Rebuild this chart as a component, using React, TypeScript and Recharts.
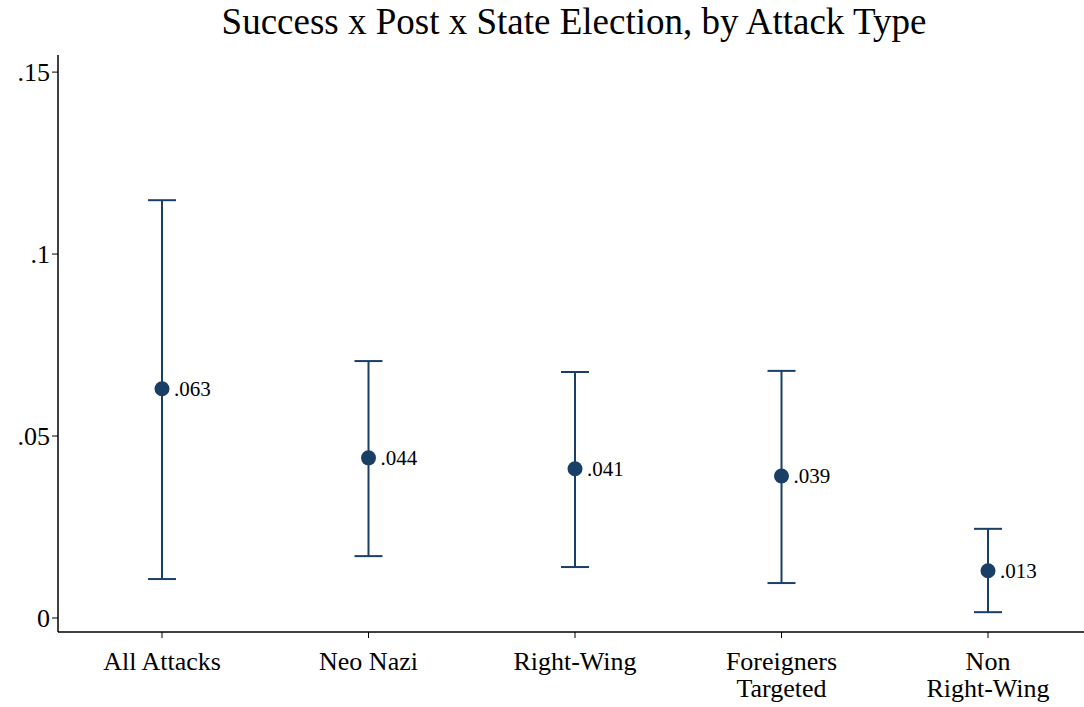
import React from "react";
import { ComposedChart, Scatter, XAxis, YAxis, ErrorBar, LabelList } from "recharts";

const categories = ["All Attacks", "Neo Nazi", "Right-Wing", "Foreigners\nTargeted", "Non\nRight-Wing"];
const estimates = [0.063, 0.044, 0.041, 0.039, 0.013];
const ciLow = [0.0107, 0.017, 0.014, 0.0096, 0.0016];
const ciHigh = [0.1148, 0.0706, 0.0676, 0.0679, 0.0245];
const yTicks = [0, 0.05, 0.1, 0.15];

const data = categories.map((c, i) => ({
  cat: c,
  est: estimates[i],
  err: [estimates[i] - ciLow[i], ciHigh[i] - estimates[i]],
}));

const fmt = (v: number) => (v === 0 ? "0" : String(v).replace(/^0/, ""));
const FONT = "'Liberation Serif', 'Times New Roman', serif";
const COLOR = "#1a3f66";

const XTick = (p: any) => {
  const lines = String(p.payload.value).split("\n");
  return (
    <text x={p.x} y={p.y + 10} textAnchor="middle" fontFamily={FONT} fontSize={26} fill="#000">
      {lines.map((l, i) => (
        <tspan key={i} x={p.x} dy={i === 0 ? 20 : 27}>{l}</tspan>
      ))}
    </text>
  );
};

const PointLabel = (p: any) => (
  <text x={p.x + p.width / 2 + 12} y={p.y + p.height / 2 + 7} fontFamily={FONT} fontSize={21} fill="#000">
    {fmt(p.value)}
  </text>
);

export default function App() {
  return (
    <div style={{ position: "absolute", left: 0, top: 0, width: 1084, height: 707, background: "#fff" }}>
      <div style={{ position: "absolute", top: 0, width: 1084, left: 32, textAlign: "center", fontFamily: FONT, fontSize: 37 }}>
        Success x Post x State Election, by Attack Type
      </div>
      <ComposedChart width={1084} height={707} data={data} margin={{ top: 55, right: 0, bottom: 0, left: 0 }}>
        <XAxis
          dataKey="cat"
          type="category"
          height={75}
          tick={<XTick />}
          tickLine={{ stroke: "#000" }}
          tickSize={6}
          axisLine={{ stroke: "#000", strokeWidth: 1.5 }}
          interval={0}
          padding={{ left: 104, right: 96 }}
        />
        <YAxis
          type="number"
          domain={[-0.00385, 0.1547]}
          ticks={yTicks}
          width={58}
          tickFormatter={fmt}
          tick={{ fontFamily: FONT, fontSize: 26, fill: "#000" }}
          tickLine={{ stroke: "#000" }}
          tickSize={6}
          axisLine={{ stroke: "#000", strokeWidth: 1.5 }}
          allowDataOverflow
        />
        <Scatter dataKey="est" fill={COLOR} isAnimationActive={false}
          shape={(p: any) => <circle cx={p.cx} cy={p.cy} r={7.5} fill={COLOR} />}>
          <ErrorBar dataKey="err" direction="y" width={14} stroke={COLOR} strokeWidth={2} />
          <LabelList dataKey="est" content={<PointLabel />} />
        </Scatter>
      </ComposedChart>
    </div>
  );
}
